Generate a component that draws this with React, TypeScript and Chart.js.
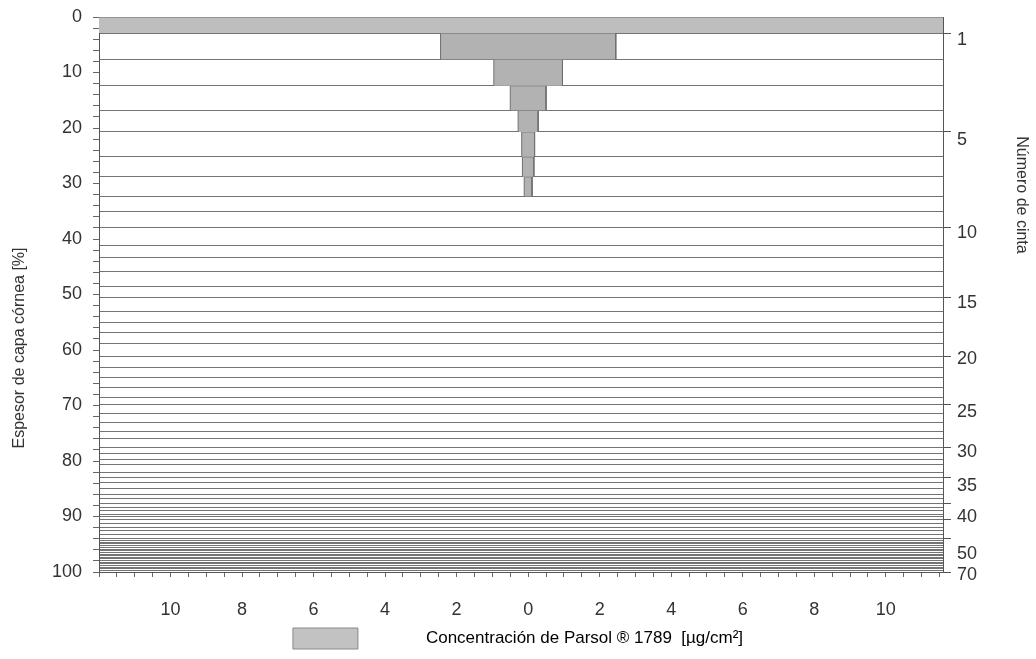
import React, { useEffect, useRef } from 'react';
import { Chart, registerables } from 'chart.js';

Chart.register(...registerables);

const FONT = '"Liberation Sans", Arial, Helvetica, sans-serif';

// End of each tape (cumulative stratum corneum thickness, %), tapes 1..70
const tapeEnds = [
  2.9, 7.6, 12.4, 16.8, 20.7, 25.2, 28.8, 32.3, 35.1, 38.0,
  41.1, 43.4, 45.9, 48.5, 50.5, 53.0, 55.0, 56.9, 58.9, 61.1,
  63.1, 64.9, 66.7, 68.5, 69.9, 71.5, 73.0, 74.6, 75.9, 77.5,
  78.6, 79.8, 80.7, 82.0, 82.9, 83.8, 84.9, 86.1, 86.8, 87.6,
  88.3, 89.0, 89.6, 90.0, 90.5, 91.2, 91.9, 92.6, 93.2, 93.9,
  94.3, 94.6, 94.9, 95.3, 95.6, 95.9, 96.2, 96.5, 96.8, 97.1,
  97.4, 97.6, 97.9, 98.2, 98.5, 98.8, 99.1, 99.4, 99.7, 100,
];

// Parsol 1789 concentration on tapes 1..8 (µg/cm²); deeper tapes ~0
const concentrations = [12.5, 2.45, 0.96, 0.5, 0.28, 0.18, 0.16, 0.11];

// Tapes whose end gets a tick mark on the right axis
const markedTapes = [1, 5, 10, 15, 20, 25, 30, 35, 40, 45, 50, 70];

// Right axis tick labels and where they sit (% depth)
const rightLabels = ['1', '5', '10', '15', '20', '25', '30', '35', '40', '50', '70'];
const rightLabelPositions = [4.1, 22.2, 38.9, 51.5, 61.6, 71.2, 78.4, 84.5, 90.1, 96.8, 100.6];

// Labelled x values (shown as absolute values)
const xLabelValues = [-10, -8, -6, -4, -2, 0, 2, 4, 6, 8, 10];

const yTitle = 'Espesor de capa córnea [%]';
const y2Title = 'Número de cinta';
const legendLabel = 'Concentración de Parsol ® 1789  [µg/cm²]';
const legendGap = '\u2003\u2003\u2003\u2002';

const sideTitles = {
  id: 'sideTitles',
  afterDraw(chart: any) {
    const ctx = chart.ctx;
    const draw = (text: string, x: number, y: number, rot: number, size: number) => {
      ctx.save();
      ctx.translate(x, y);
      ctx.rotate(rot);
      ctx.font = `${size}px ${FONT}`;
      ctx.fillStyle = '#333333';
      ctx.textAlign = 'center';
      ctx.textBaseline = 'middle';
      ctx.fillText(text, 0, 0);
      ctx.restore();
    };
    draw(yTitle, 20, 348, -Math.PI / 2, 16);
    draw(y2Title, 1021, 195, Math.PI / 2, 16);
  },
};

export default function App() {
  const canvasRef = useRef<HTMLCanvasElement | null>(null);

  useEffect(() => {
    if (!canvasRef.current) return;

    const datasets = concentrations.map((c, i) => {
      const y0 = i === 0 ? 0 : tapeEnds[i - 1];
      const y1 = tapeEnds[i];
      return {
        label: i === 0 ? legendLabel : `Cinta ${i + 1}`,
        data: [
          { x: -c, y: y1 },
          { x: -c, y: y0 },
          { x: c, y: y0 },
          { x: c, y: y1 },
        ],
        showLine: true,
        fill: { value: y1 },
        backgroundColor: i === 0 ? '#bebebe' : '#b2b2b2',
        borderColor: '#6f6f6f',
        borderWidth: 1,
        pointRadius: 0,
        pointHoverRadius: 0,
        tension: 0,
        xAxisID: 'x',
        yAxisID: 'y',
      };
    });

    const chart = new Chart(canvasRef.current, {
      type: 'scatter',
      data: { datasets },
      plugins: [sideTitles],
      options: {
        animation: false,
        responsive: true,
        maintainAspectRatio: false,
        layout: { padding: { left: 0, top: 17, right: 0, bottom: 0 } },
        plugins: {
          tooltip: { enabled: false },
          legend: {
            position: 'bottom',
            labels: {
              boxWidth: 65,
              boxHeight: 21,
              padding: 10,
              color: '#222222',
              font: { family: FONT, size: 17 },
              generateLabels: () => [
                {
                  text: legendGap + legendLabel,
                  fillStyle: '#c2c2c2',
                  strokeStyle: '#8a8a8a',
                  lineWidth: 1,
                  hidden: false,
                  datasetIndex: 0,
                },
              ],
            },
          },
        },
        scales: {
          x: {
            type: 'linear',
            min: -12,
            max: 11.6,
            border: { display: true, color: '#555555' },
            grid: { drawOnChartArea: false, drawTicks: true, tickLength: 5, color: '#666666' },
            ticks: {
              stepSize: 0.5,
              includeBounds: false,
              autoSkip: false,
              maxRotation: 0,
              padding: 22,
              color: '#333333',
              font: { family: FONT, size: 18 },
              callback: (v: any) => {
                const n = Number(v);
                return xLabelValues.includes(n) ? String(Math.abs(n)) : '';
              },
            },
            afterFit: (s: any) => {
              s.height = 46;
            },
          },
          y: {
            type: 'linear',
            position: 'left',
            reverse: true,
            min: 0,
            max: 100,
            border: { display: true, color: '#555555' },
            grid: { drawOnChartArea: false, drawTicks: true, tickLength: 6, color: '#666666' },
            ticks: {
              stepSize: 2,
              autoSkip: false,
              padding: 11,
              color: '#333333',
              font: { family: FONT, size: 18 },
              callback: (v: any) => (Number(v) % 10 === 0 ? String(v) : ''),
            },
            afterFit: (s: any) => {
              s.width = 99;
              s.paddingTop = 4;
              s.paddingBottom = 4;
            },
          },
          y2: {
            type: 'linear',
            position: 'right',
            weight: 0,
            reverse: true,
            min: 0,
            max: 100,
            border: { display: true, color: '#555555' },
            grid: {
              drawOnChartArea: true,
              drawTicks: true,
              tickLength: 8,
              color: '#747474',
              lineWidth: 1,
              tickColor: (ctx: any) => (ctx.index === 0 || !markedTapes.includes(ctx.index) ? 'rgba(0,0,0,0)' : '#555555'),
            },
            ticks: { display: false, autoSkip: false },
            afterBuildTicks: (s: any) => {
              s.ticks = [0, ...tapeEnds].map((v) => ({ value: v }));
            },
            afterFit: (s: any) => {
              s.width = 8;
              s.paddingTop = 0;
              s.paddingBottom = 0;
            },
          },
          y3: {
            type: 'linear',
            position: 'right',
            weight: 1,
            reverse: true,
            min: 0,
            max: 100,
            border: { display: false },
            grid: { display: false, drawOnChartArea: false, drawTicks: false },
            ticks: {
              autoSkip: false,
              padding: 6,
              color: '#333333',
              font: { family: FONT, size: 18 },
              callback: (_v: any, i: number) => rightLabels[i] ?? '',
            },
            afterBuildTicks: (s: any) => {
              s.ticks = rightLabelPositions.map((v) => ({ value: v }));
            },
            afterFit: (s: any) => {
              s.width = 85;
              s.paddingTop = 4;
              s.paddingBottom = 4;
            },
          },
        },
      } as any,
    });

    return () => chart.destroy();
  }, []);

  return (
    <div style={{ position: 'fixed', left: 0, top: 0, width: 1036, height: 659, background: '#ffffff' }}>
      <canvas ref={canvasRef} />
    </div>
  );
}
